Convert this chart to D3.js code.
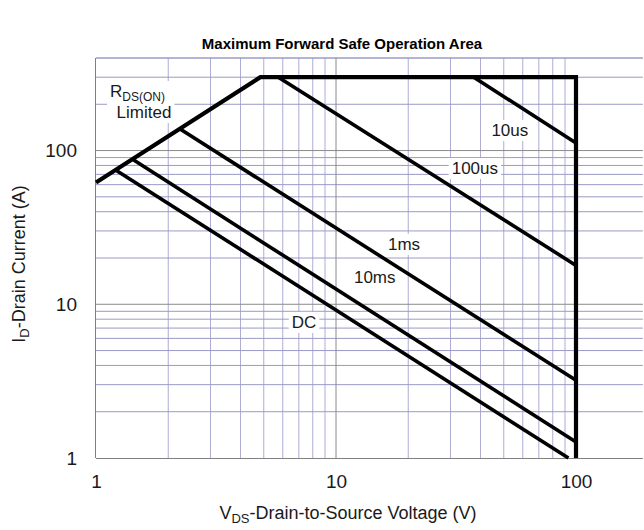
<!DOCTYPE html>
<html>
<head>
<meta charset="utf-8">
<script src="https://cdn.jsdelivr.net/npm/d3@7"></script>
<style>
  body { margin: 0; background: #fff; }
  text { font-family: "Liberation Sans", Arial, sans-serif; fill: #1a1a1a; }
</style>
</head>
<body>
<div id="chartContainer"></div>
<script>
// Maximum forward safe operating area, log-log
var width = 644;
var height = 530;

// boundary: RDS(on) line, current limit, voltage limit
var limitV = [1, 4.84, 100, 100];
var limitI = [62, 300, 300, 1];

// pulse lines, start and end points
var pulseNames = ["10us", "100us", "1ms", "10ms", "DC"];
var pulseV = [[37.5, 100], [5.75, 100], [2.24, 100], [1.43, 100], [1.22, 93]];
var pulseI = [[300, 112], [300, 17.9], [138, 3.2], [87, 1.27], [74, 1]];

// where the pulse labels sit (V, I)
var labelV = [53, 37.9, 19.2, 14.5, 7.36];
var labelI = [136, 77, 24.7, 15.1, 7.67];

var xTicks = [1, 10, 100];
var yTicks = [1, 10, 100];

var svg = d3.select('#chartContainer')
    .append('svg')
    .attr("width", width)
    .attr("height", height);

var xScale = d3.scaleLog().domain([1, 190]).range([96, 96 + 240 * Math.log10(190)]);
var yScale = d3.scaleLog().domain([1, 400]).range([458, 58]);

var plotRight = xScale(190);

/*** grid ***/
function minorList(lo, hi) {
  var out = [];
  for (var d = lo; d < hi; d *= 10) {
    for (var k = 1; k <= 9; k++) {
      if (d * k <= hi) out.push(d * k);
    }
  }
  out.push(hi);
  return out;
}

var gx = minorList(1, 100).filter(function(v){ return xTicks.indexOf(v) < 0; });
var gy = minorList(1, 400).filter(function(v){ return yTicks.indexOf(v) < 0; });

var grid = svg.append('g').classed('grid', true);

grid.selectAll('line.vx').data(gx).enter().append('line')
  .attr('x1', xScale).attr('x2', xScale)
  .attr('y1', yScale(1)).attr('y2', yScale(400))
  .style('stroke', '#adadd6').style('stroke-width', 1);

grid.selectAll('line.hy').data(gy).enter().append('line')
  .attr('x1', xScale(1)).attr('x2', plotRight)
  .attr('y1', yScale).attr('y2', yScale)
  .style('stroke', '#9a9ac6').style('stroke-width', 1);

// decade lines are grey
grid.selectAll('line.mx').data([10]).enter().append('line')
  .attr('x1', xScale).attr('x2', xScale)
  .attr('y1', yScale(1)).attr('y2', yScale(400))
  .style('stroke', '#8a8a8a').style('stroke-width', 1);

grid.selectAll('line.my').data([10, 100]).enter().append('line')
  .attr('x1', xScale(1)).attr('x2', plotRight)
  .attr('y1', yScale).attr('y2', yScale)
  .style('stroke', '#8a8a8a').style('stroke-width', 1);

/*** axes ***/
var xAxis = d3.axisBottom(xScale).tickValues(xTicks).tickFormat(d3.format('d')).tickSize(0).tickPadding(17);
var xAxisGroup = svg.append('g').attr('transform', 'translate(0,' + yScale(1) + ')');
xAxis(xAxisGroup);
xAxisGroup.select('.domain').attr('d', 'M' + xScale(1) + ',0.5H' + plotRight).style('stroke', '#808080');

var yAxis = d3.axisLeft(yScale).tickValues(yTicks).tickFormat(d3.format('d')).tickSize(0).tickPadding(19);
var yAxisGroup = svg.append('g').attr('transform', 'translate(' + xScale(1) + ',0)');
yAxis(yAxisGroup);
yAxisGroup.select('.domain').attr('d', 'M-0.5,' + yScale(1) + 'V' + yScale(400)).style('stroke', '#808080');

svg.selectAll('.tick text')
  .style('font-size', '19px')
  .style('font-family', '"Liberation Sans", Arial, sans-serif')
  .style('fill', '#1a1a1a');

/*** labels with white backing ***/
var labelGroup = svg.append('g').classed('labels', true);
pulseNames.forEach(function(name, i) {
  var t = labelGroup.append('text')
    .attr('x', xScale(labelV[i]))
    .attr('y', yScale(labelI[i]))
    .attr('text-anchor', 'middle')
    .attr('dy', '0.35em')
    .style('font-size', '17px')
    .text(name);
  var bb = t.node().getBBox();
  labelGroup.insert('rect', 'text')
    .attr('x', bb.x - 3).attr('y', bb.y - 1)
    .attr('width', bb.width + 6).attr('height', bb.height + 2)
    .style('fill', '#fff');
});

// RDS(ON) Limited
var rds = labelGroup.append('text')
  .attr('x', 110).attr('y', 97)
  .style('font-size', '17px');
rds.append('tspan').text('R');
rds.append('tspan').attr('dy', 4).style('font-size', '12px').text('DS(ON)');
var rdsBox = rds.node().getBBox();
var lim = labelGroup.append('text')
  .attr('x', 144).attr('y', 118)
  .attr('text-anchor', 'middle')
  .style('font-size', '17px')
  .text('Limited');
var limBox = lim.node().getBBox();
labelGroup.insert('rect', 'text')
  .attr('x', Math.min(rdsBox.x, limBox.x) - 3).attr('y', rdsBox.y - 1)
  .attr('width', Math.max(rdsBox.x + rdsBox.width, limBox.x + limBox.width) - Math.min(rdsBox.x, limBox.x) + 6)
  .attr('height', limBox.y + limBox.height - rdsBox.y + 2)
  .style('fill', '#fff');

/*** SOA lines ***/
var lineFunc = d3.line().x(function(d){ return xScale(d[0]); }).y(function(d){ return yScale(d[1]); });

var lines = svg.append('g').classed('soa', true);

pulseNames.forEach(function(name, i) {
  var pts = pulseV[i].map(function(v, j){ return [v, pulseI[i][j]]; });
  lines.append('path').attr('d', lineFunc(pts))
    .style('fill', 'none').style('stroke', '#000').style('stroke-width', 3.6);
});

var limitPts = limitV.map(function(v, j){ return [v, limitI[j]]; });
lines.append('path').attr('d', lineFunc(limitPts))
  .style('fill', 'none').style('stroke', '#000').style('stroke-width', 4.2)
  .style('stroke-linejoin', 'miter');

/*** titles ***/
svg.append('text')
  .attr('x', 342).attr('y', 49)
  .attr('text-anchor', 'middle')
  .style('font-size', '15px').style('font-weight', 'bold').style('fill', '#000')
  .text('Maximum Forward Safe Operation Area');

var xt = svg.append('text')
  .attr('x', 348).attr('y', 519)
  .attr('text-anchor', 'middle')
  .style('font-size', '18px');
xt.append('tspan').text('V');
xt.append('tspan').attr('dy', 4).style('font-size', '13px').text('DS');
xt.append('tspan').attr('dy', -4).text('-Drain-to-Source Voltage (V)');

var yt = svg.append('text')
  .attr('transform', 'translate(25,' + 264 + ') rotate(-90)')
  .attr('text-anchor', 'middle')
  .style('font-size', '18px');
yt.append('tspan').text('I');
yt.append('tspan').attr('dy', 4).style('font-size', '13px').text('D');
yt.append('tspan').attr('dy', -4).text('-Drain Current (A)');
</script>
</body>
</html>
